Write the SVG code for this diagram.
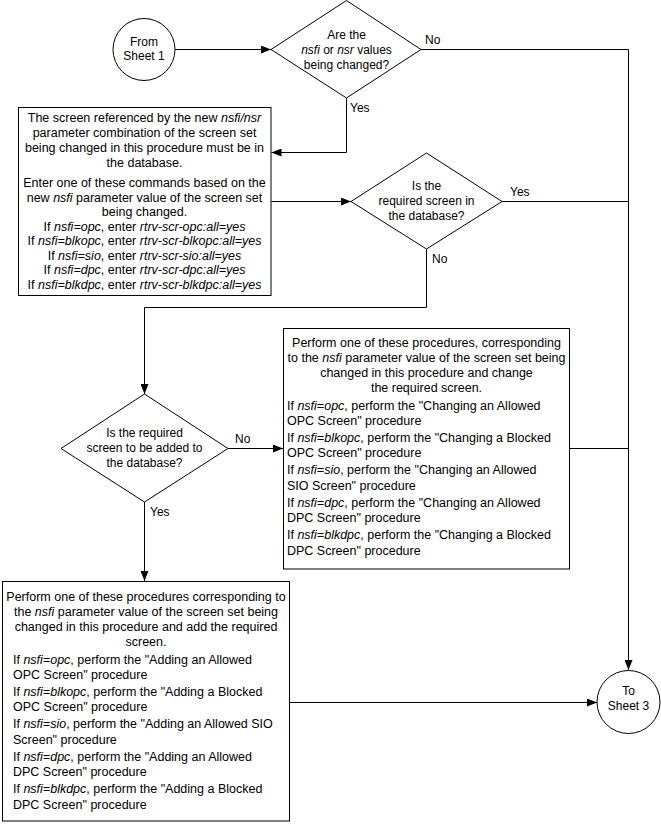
<svg xmlns="http://www.w3.org/2000/svg" width="661" height="824" viewBox="0 0 661 824">
<defs>
<style>
.s{fill:#fff;stroke:#000;stroke-width:1}
.t{font-family:"Liberation Sans",Arial,sans-serif;font-size:12px;fill:#000}
.b{font-size:12.5px}
.c{text-anchor:middle}
.i{font-style:italic}
.ln{fill:none;stroke:#000;stroke-width:1}
</style>
<marker id="arr" markerWidth="10" markerHeight="8" refX="10" refY="4" orient="auto" markerUnits="userSpaceOnUse">
<path d="M0,0 L10,4 L0,8 z" fill="#000"/>
</marker>
</defs>
<rect width="661" height="824" fill="#fff"/>

<g id="connectors">
<path class="ln" d="M175,49.5 H271" marker-end="url(#arr)"/>
<path class="ln" d="M421,49.5 H628.5 V670" marker-end="url(#arr)"/>
<path class="ln" d="M346.5,98 V152.5 H271.5" marker-end="url(#arr)"/>
<path class="ln" d="M271.5,201.5 H351" marker-end="url(#arr)"/>
<path class="ln" d="M502,201.5 H628.5"/>
<path class="ln" d="M426.5,249 V307.5 H144.5 V394" marker-end="url(#arr)"/>
<path class="ln" d="M228,448.5 H283" marker-end="url(#arr)"/>
<path class="ln" d="M569.5,448.5 H628.5"/>
<path class="ln" d="M144.5,502 V581" marker-end="url(#arr)"/>
<path class="ln" d="M289.5,702.5 H597" marker-end="url(#arr)"/>
</g>

<g id="labels" class="t">
<text x="425" y="44">No</text>
<text x="350" y="112">Yes</text>
<text x="510" y="196">Yes</text>
<text x="432" y="263">No</text>
<text x="235" y="443">No</text>
<text x="150" y="516">Yes</text>
</g>

<g id="from-sheet1">
<circle class="s" cx="144" cy="49.5" r="31"/>
<text class="t c" x="144" y="46">From</text>
<text class="t c" x="144" y="60">Sheet 1</text>
</g>

<g id="decision1">
<polygon class="s" points="346.5,0.5 421,49.5 346.5,98 271,49.5"/>
<text class="t c" x="346.5" y="39">Are the</text>
<text class="t c" x="346.5" y="54"><tspan class="i">nsfi</tspan> or <tspan class="i">nsr</tspan> values</text>
<text class="t c" x="346.5" y="69">being changed?</text>
</g>

<g id="box1" class="t b">
<rect class="s" x="18.5" y="107.5" width="252.5" height="188"/>
<text class="c" x="144.5" y="122">The screen referenced by the new <tspan class="i">nsfi/nsr</tspan></text>
<text class="c" x="144.5" y="137">parameter combination of the screen set</text>
<text class="c" x="144.5" y="152">being changed in this procedure must be in</text>
<text class="c" x="144.5" y="167">the database.</text>
<text class="c" x="144.5" y="187">Enter one of these commands based on the</text>
<text class="c" x="144.5" y="201.5">new <tspan class="i">nsfi</tspan> parameter value of the screen set</text>
<text class="c" x="144.5" y="216">being changed.</text>
<text class="c" x="144.5" y="230.5">If <tspan class="i">nsfi=opc</tspan>, enter <tspan class="i">rtrv-scr-opc:all=yes</tspan></text>
<text class="c" x="144.5" y="245">If <tspan class="i">nsfi=blkopc</tspan>, enter <tspan class="i">rtrv-scr-blkopc:all=yes</tspan></text>
<text class="c" x="144.5" y="259.5">If <tspan class="i">nsfi=sio</tspan>, enter <tspan class="i">rtrv-scr-sio:all=yes</tspan></text>
<text class="c" x="144.5" y="274">If <tspan class="i">nsfi=dpc</tspan>, enter <tspan class="i">rtrv-scr-dpc:all=yes</tspan></text>
<text class="c" x="144.5" y="288.5">If <tspan class="i">nsfi=blkdpc</tspan>, enter <tspan class="i">rtrv-scr-blkdpc:all=yes</tspan></text>
</g>

<g id="decision2">
<polygon class="s" points="426.5,153 502,201.5 426.5,249 351,201.5"/>
<text class="t c" x="426.5" y="190">Is the</text>
<text class="t c" x="426.5" y="205">required screen in</text>
<text class="t c" x="426.5" y="219.5">the database?</text>
</g>

<g id="decision3">
<polygon class="s" points="144.5,394 228,448.5 144.5,502 61,448.5"/>
<text class="t c" x="144.5" y="437">Is the required</text>
<text class="t c" x="144.5" y="452">screen to be added to</text>
<text class="t c" x="144.5" y="467">the database?</text>
</g>

<g id="box2" class="t b">
<rect class="s" x="283.5" y="328.5" width="286" height="240.5"/>
<text class="c" x="426.5" y="347">Perform one of these procedures, corresponding</text>
<text class="c" x="426.5" y="362">to the <tspan class="i">nsfi</tspan> parameter value of the screen set being</text>
<text class="c" x="426.5" y="377">changed in this procedure and change</text>
<text class="c" x="426.5" y="392">the required screen.</text>
<text x="287" y="410">If <tspan class="i">nsfi=opc</tspan>, perform the "Changing an Allowed</text>
<text x="287" y="425">OPC Screen" procedure</text>
<text x="287" y="442">If <tspan class="i">nsfi=blkopc</tspan>, perform the "Changing a Blocked</text>
<text x="287" y="457">OPC Screen" procedure</text>
<text x="287" y="474">If <tspan class="i">nsfi=sio</tspan>, perform the "Changing an Allowed</text>
<text x="287" y="490">SIO Screen" procedure</text>
<text x="287" y="507">If <tspan class="i">nsfi=dpc</tspan>, perform the "Changing an Allowed</text>
<text x="287" y="522">DPC Screen" procedure</text>
<text x="287" y="539">If <tspan class="i">nsfi=blkdpc</tspan>, perform the "Changing a Blocked</text>
<text x="287" y="555">DPC Screen" procedure</text>
</g>

<g id="box3" class="t b">
<rect class="s" x="2.5" y="581.5" width="287" height="239.5"/>
<text class="c" x="146" y="601">Perform one of these procedures corresponding to</text>
<text class="c" x="146" y="616">the <tspan class="i">nsfi</tspan> parameter value of the screen set being</text>
<text class="c" x="146" y="631">changed in this procedure and add the required</text>
<text class="c" x="146" y="646">screen.</text>
<text x="13" y="664">If <tspan class="i">nsfi=opc</tspan>, perform the "Adding an Allowed</text>
<text x="13" y="679">OPC Screen" procedure</text>
<text x="13" y="696">If <tspan class="i">nsfi=blkopc</tspan>, perform the "Adding a Blocked</text>
<text x="13" y="711">OPC Screen" procedure</text>
<text x="13" y="728">If <tspan class="i">nsfi=sio</tspan>, perform the "Adding an Allowed SIO</text>
<text x="13" y="744">Screen" procedure</text>
<text x="13" y="761">If <tspan class="i">nsfi=dpc</tspan>, perform the "Adding an Allowed</text>
<text x="13" y="776">DPC Screen" procedure</text>
<text x="13" y="793">If <tspan class="i">nsfi=blkdpc</tspan>, perform the "Adding a Blocked</text>
<text x="13" y="809">DPC Screen" procedure</text>
</g>

<g id="to-sheet3">
<circle class="s" cx="628.5" cy="702" r="31.5"/>
<text class="t c" x="628.5" y="695">To</text>
<text class="t c" x="628.5" y="710">Sheet 3</text>
</g>
</svg>
